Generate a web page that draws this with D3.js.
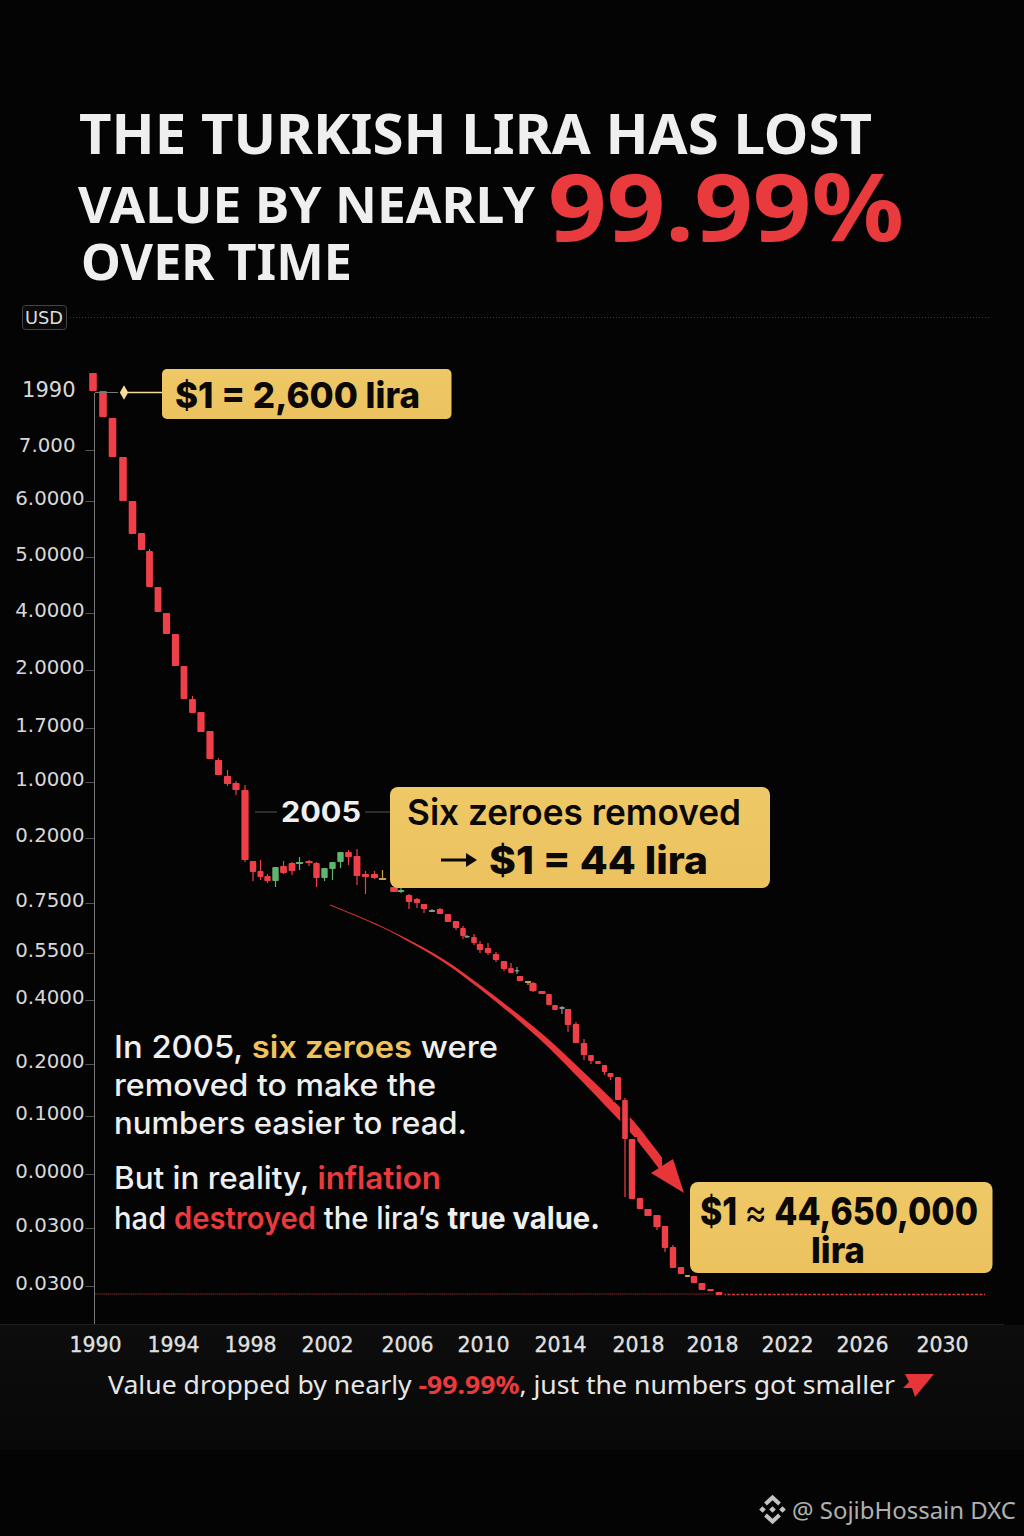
<!DOCTYPE html>
<html>
<head>
<meta charset="utf-8">
<script src="https://cdnjs.cloudflare.com/ajax/libs/d3/7.8.5/d3.min.js"></script>
<style>
html,body{margin:0;padding:0;background:#040404;}
svg{display:block;}
</style>
</head>
<body>
<div id="plot"></div>
<script>
//Data. Levels are an arbitrary chart index because the printed axis labels are not monotonic
var candleX = [-2,8,17.5,28,37.5,46.5,54.5,63,71.5,80.5,89,97.5,106,115,123.5,132.5,141,150,158,165.5,172.5,180.5,188.5,197,204.5,214,221.5,229.5,237.5,245.5,253.5,262,270.5,279.5,287.5,299,306,314,322,329,337,345,353,361,368,372,379,385,393,401,409,416,422,425,433,438,447,454,460,467,473,481,489,496,503,509.5,515.5,523,530,537,545,553,562,570,578,586,592.5,599,607,615.5,624];
var candleOpen = [921,903,876,837,793,761,743,707,681,660,628,595,582,563,534,518,511,504,433,423,418,413,428,431,430,433,431,416,425,432,442,438,420,420,416,407,402,399,395,390,384,385,380,373,366,358,357,350,346,340,333,326,324,318,313,311,303,300,289,287,285,270,251,239,233,229,221,217,194,155,96,85,79,68,47,27,19,18,11,5,2];
var candleClose = [903,877,837,793,760,744,707,682,660,628,595,581,562,535,519,510,504,434,422,417,413,427,421,423,432,431,416,426,432,442,437,418,417,416,414,402,404,392,391,385,382,380,372,366,358,357,351,344,341,334,325,321,323,313,311,303,300,289,284,285,269,251,239,233,230,222,217,194,155,95,85,78,67,46,26,20,17,11,4,3,-1];
var candleHigh = [921,903,876,837,793,761,745,707,681,660,628,598,582,563,536,524,513,509,433,434,420,427,433,432,437,434,432,426,432,442,444,445,423,423,424,407,407,400,396,390,385,386,380,373,368,359,360,353,351,342,333,331,327,318,313,312,303,300,289,288,285,272,255,239,233,229,221,217,196,155,96,85,79,68,49,27,19,18,11,5,2];
var candleLow = [903,877,837,793,760,744,707,682,660,628,595,581,562,535,519,508,499,432,413,414,411,407,420,419,424,428,407,413,414,426,429,409,400,415,414,402,401,385,386,381,382,380,372,364,355,356,349,341,339,332,323,321,320,313,309,302,300,289,284,280,262,251,234,230,230,219,214,194,97,95,85,78,64,42,26,20,17,11,4,3,-1];
var grayCandles = [40,45,52,59];
var goldCandles = [34,54,76];

var yTickLevels = [902,844,793,737,681,624,566,512,456,391,341,294,230,178,120,66,8];
var yTickLabels = ['1990','7.000','6.0000','5.0000','4.0000','2.0000','1.7000','1.0000','0.2000','0.7500','0.5500','0.4000','0.2000','0.1000','0.0000','0.0300','0.0300'];
var xTickSlots = [0,78,155,232,312,388,465,543,617,692,767,847];
var xTickLabels = ['1990','1994','1998','2002','2006','2010','2014','2018','2018','2022','2026','2030'];

var floorLevel = 0;
var floorStart = 0, floorBreak = 628, floorEnd = 890;

//the long tapered arrow: centre line and thickness
var trendX = [235,285,318,352,385,418,452,485,515,538,567];
var trendY = [389,368,351,331,307,281,252,220,190,166,129];
var trendThick = [1,1.2,2,3,4,5.5,8,10.5,13,15,15];
var headX = [589,556,578];
var headY = [101,121,135];

//Set up the drawing environment here
var width = 1024, height = 1536;
var plot = {l:95, r:943, t:294, b:1294};

var svg = d3.select('#plot').append('svg')
	.attr('width',width)
	.attr('height',height)
	.attr('viewBox','0 0 1024 1536');

var x = d3.scaleLinear().domain([0,848]).range([plot.l,plot.r]);
var y = d3.scaleLinear().domain([0,1000]).range([plot.b,plot.t]);

var defs = svg.append('defs');
var gold = defs.append('linearGradient').attr('id','gold').attr('x1',0).attr('x2',0).attr('y1',0).attr('y2',1);
gold.append('stop').attr('offset','0%').attr('stop-color','#efc867');
gold.append('stop').attr('offset','100%').attr('stop-color','#ebc25e');
var band = defs.append('linearGradient').attr('id','band').attr('x1',0).attr('x2',0).attr('y1',0).attr('y2',1);
band.append('stop').attr('offset','0%').attr('stop-color','#0d0d0d');
band.append('stop').attr('offset','100%').attr('stop-color','#080808');

var sans = 'Inter, "DejaVu Sans", sans-serif';
var dejavu = '"DejaVu Sans", sans-serif';
var noto = '"Noto Sans", sans-serif';
var RED = '#e93a3d', YELLOW = '#efc25c', WHITE = '#efefef';

svg.append('rect').attr('width',width).attr('height',height).attr('fill','#040404');
svg.append('rect').attr('x',0).attr('y',1325).attr('width',width).attr('height',125).attr('fill','url(#band)');
svg.append('line').attr('x1',0).attr('x2',1004).attr('y1',1324.5).attr('y2',1324.5).attr('stroke','#1f1f1f');

//text with optional coloured runs, squeezed to the width it has in the picture
function label(runs, px, base, w, size, weight, family, fill, anchor) {
	var t = svg.append('text')
		.attr('x',px).attr('y',base)
		.attr('font-size',size).attr('font-weight',weight)
		.attr('font-family',family).attr('fill',fill)
		.attr('text-anchor',anchor || 'start')
		.attr('xml:space','preserve');
	if (typeof runs === 'string') runs = [[runs]];
	runs.forEach(function(r) {
		var s = t.append('tspan').text(r[0]);
		if (r[1]) s.attr('fill',r[1]);
		if (r[2]) s.attr('font-weight',r[2]);
	});
	if (w) t.attr('textLength',w).attr('lengthAdjust','spacingAndGlyphs');
	return t;
}

//title
label('THE TURKISH LIRA HAS LOST',79,154,793,56,700,noto,WHITE);
label('VALUE BY NEARLY',78,223,457,51,700,noto,WHITE);
label('99.99%',548,241,356,94,700,noto,RED);
label('OVER TIME',81,280,271,51,700,noto,WHITE);

//USD tag and dotted rule
svg.append('rect').attr('x',22.5).attr('y',305.5).attr('width',44).attr('height',24).attr('rx',3)
	.attr('fill','#0a0a0a').attr('stroke','#444');
label('USD',44,324,38,17,400,dejavu,'#dddddd','middle');
svg.append('line').attr('x1',70).attr('x2',990).attr('y1',317.5).attr('y2',317.5)
	.attr('stroke','#3a3a3a').attr('stroke-dasharray','1 2');

//y axis
var yAxis = d3.axisLeft(y)
	.tickValues(yTickLevels)
	.tickFormat(function(d,i){return yTickLabels[i];})
	.tickSize(9)
	.tickPadding(1);
var yG = svg.append('g').attr('transform','translate('+(plot.l-0.5)+',0)').call(yAxis);
yG.select('.domain').remove();
yG.selectAll('.tick line').attr('stroke','#555');
yG.selectAll('.tick').filter(function(d,i){return i === 0;}).select('line').remove();
yG.selectAll('.tick text')
	.attr('font-family',dejavu).attr('fill','#d8d8d8')
	.attr('font-size',function(d,i){return i === 0 ? 21 : 19.8;})
	.attr('dy',function(d,i){return i === 1 ? '0.1em' : '0.2em';})
	.attr('dx',function(d,i){return i < 2 ? -9 : 0;});
svg.append('line').attr('x1',94.5).attr('x2',94.5).attr('y1',y(yTickLevels[0])).attr('y2',1324)
	.attr('stroke','#777');

//x axis labels
var xAxis = d3.axisBottom(x).tickValues(xTickSlots)
	.tickFormat(function(d,i){return xTickLabels[i];}).tickSize(0).tickPadding(0);
var xG = svg.append('g').attr('transform','translate(0,1335)').call(xAxis);
xG.select('.domain').remove();
xG.selectAll('.tick text')
	.attr('font-family',dejavu).attr('font-size',20.5).attr('fill','#e0e0e0')
	.attr('stroke','#e0e0e0').attr('stroke-width',0.3)
	.attr('dy','0.85em');

//floor line at the bottom of the chart
svg.append('line').attr('x1',x(floorStart)).attr('x2',x(floorBreak)).attr('y1',y(floorLevel)).attr('y2',y(floorLevel))
	.attr('stroke','#8a2a2c').attr('stroke-width',1.2).attr('stroke-dasharray','1.5 0.6');
svg.append('line').attr('x1',x(floorBreak)).attr('x2',x(floorEnd)).attr('y1',y(floorLevel)+0.5).attr('y2',y(floorLevel)+0.5)
	.attr('stroke','#d23a3d').attr('stroke-width',1.6).attr('stroke-dasharray','3 1.5');

//the tapered arrow
var trend = d3.range(trendX.length);
var trendArea = d3.area()
	.x(function(i){return x(trendX[i]);})
	.y0(function(i){return y(trendY[i])-trendThick[i]/2;})
	.y1(function(i){return y(trendY[i])+trendThick[i]/2;})
	.curve(d3.curveCatmullRom);
svg.append('path').attr('d',trendArea(trend)).attr('fill','#e8353a');
svg.append('polygon')
	.attr('points',headX.map(function(d,i){return x(d)+','+y(headY[i]);}).join(' '))
	.attr('fill','#e8353a');

//candles
var candles = d3.range(candleX.length);
function gap(i) {
	var a = i > 0 ? candleX[i]-candleX[i-1] : 10;
	var b = i < candleX.length-1 ? candleX[i+1]-candleX[i] : 8;
	return Math.min(Math.max(a,b),9.5);
}
function candleColor(i) {
	if (grayCandles.indexOf(i) >= 0) return '#8d9490';
	if (goldCandles.indexOf(i) >= 0) return '#c9a24e';
	return candleClose[i] > candleOpen[i] ? '#5fb56b' : '#ef4049';
}
function bodyTop(i) {return y(Math.max(candleOpen[i],candleClose[i]));}
function bodyH(i) {return Math.max(1.5,Math.abs(y(candleOpen[i])-y(candleClose[i])));}
function bodyW(i) {return gap(i)*0.8;}

//dark halo that cuts the arrow around the candles
svg.append('g').selectAll('rect').data(candles).enter().append('rect')
	.attr('x',function(i){return x(candleX[i])-bodyW(i)/2;})
	.attr('y',bodyTop)
	.attr('width',bodyW)
	.attr('height',bodyH)
	.attr('fill','#040404').attr('stroke','#040404').attr('stroke-width',4);

svg.append('g').selectAll('line').data(candles).enter().append('line')
	.attr('x1',function(i){return x(candleX[i]);})
	.attr('x2',function(i){return x(candleX[i]);})
	.attr('y1',function(i){return y(candleHigh[i]);})
	.attr('y2',function(i){return y(candleLow[i]);})
	.attr('stroke',candleColor).attr('stroke-width',1.2);

svg.append('g').selectAll('rect').data(candles).enter().append('rect')
	.attr('x',function(i){return x(candleX[i])-bodyW(i)/2;})
	.attr('y',bodyTop)
	.attr('width',bodyW)
	.attr('height',bodyH)
	.attr('rx',1)
	.attr('fill',candleColor);

//callout: $1 = 2,600 lira
svg.append('line').attr('x1',95).attr('x2',118).attr('y1',392.5).attr('y2',392.5).attr('stroke','#777');
svg.append('line').attr('x1',124).attr('x2',163).attr('y1',392.5).attr('y2',392.5).attr('stroke','#f0dca0').attr('stroke-width',1.5);
svg.append('path').attr('d',d3.symbol().type(d3.symbolDiamond).size(60)()).attr('transform','translate(124,392.5)').attr('fill','#f5dc98');
svg.append('rect').attr('x',162).attr('y',369).attr('width',289.5).attr('height',50).attr('rx',5).attr('fill','url(#gold)');
label('$1 = 2,600 lira',175,408,245,36,800,sans,'#0b0906');

//2005 label and callout
svg.append('line').attr('x1',255).attr('x2',277).attr('y1',812).attr('y2',812).attr('stroke','#555');
svg.append('line').attr('x1',365).attr('x2',391).attr('y1',812).attr('y2',812).attr('stroke','#555');
label('2005',281,822,80,28,700,sans,WHITE);
svg.append('rect').attr('x',390).attr('y',787).attr('width',380).attr('height',101).attr('rx',8).attr('fill','url(#gold)');
label('Six zeroes removed',407,825,334,36,600,sans,'#0b0906');
svg.append('line').attr('x1',441).attr('x2',470).attr('y1',860).attr('y2',860).attr('stroke','#0b0906').attr('stroke-width',3);
svg.append('path').attr('d','M466,853L477,860L466,867Z').attr('fill','#0b0906');
label('$1 = 44 lira',489,874,219,38,800,sans,'#0b0906');

//body text
label([['In 2005, '],['six zeroes',YELLOW,600],[' were']],114,1058,384,31,500,sans,'#efefef');
label('removed to make the',114,1096,322,31,500,sans,'#efefef');
label('numbers easier to read.',114,1134,353,31,500,sans,'#efefef');
label([['But in reality, '],['inflation',RED,600]],114,1189,327,31,500,sans,'#efefef');
label([['had '],['destroyed',RED,600],[' the lira\u2019s '],['true value.',null,700]],114,1229,486,31,500,sans,'#efefef');

//callout: final rate
svg.append('rect').attr('x',690).attr('y',1182).attr('width',302.5).attr('height',91).attr('rx',8).attr('fill','url(#gold)');
label([['$1 '],['\u2248',null,400],[' 44,650,000']],700,1225,278,38,800,sans,'#0b0906');
label('lira',838,1263,54,36,800,sans,'#0b0906','middle');

//caption
label([['Value dropped by nearly '],['-99.99%',RED,700],[', just the numbers got smaller']],108,1394,787,25,400,noto,'#e6e6e6');
svg.append('path').attr('d','M905,1374L934,1374L915,1397L912,1388L903,1388L909,1382Z').attr('fill','#e8353a');

//watermark
var logo = svg.append('g').attr('transform','translate(772.5,1509.5)');
[[0,0],[-10,0],[10,0]].forEach(function(p) {
	logo.append('path').attr('d',d3.symbol().type(d3.symbolSquare).size(22)())
		.attr('transform','translate('+p[0]+','+p[1]+') rotate(45)').attr('fill','#c4c4c4');
});
['M-7,-5.5L0,-12L7,-5.5','M-7,5.5L0,12L7,5.5'].forEach(function(d) {
	logo.append('path').attr('d',d).attr('fill','none').attr('stroke','#c4c4c4').attr('stroke-width',4);
});
label('@ SojibHossain DXC',792,1519,224,24,400,noto,'#b0b0b0');
</script>
</body>
</html>
